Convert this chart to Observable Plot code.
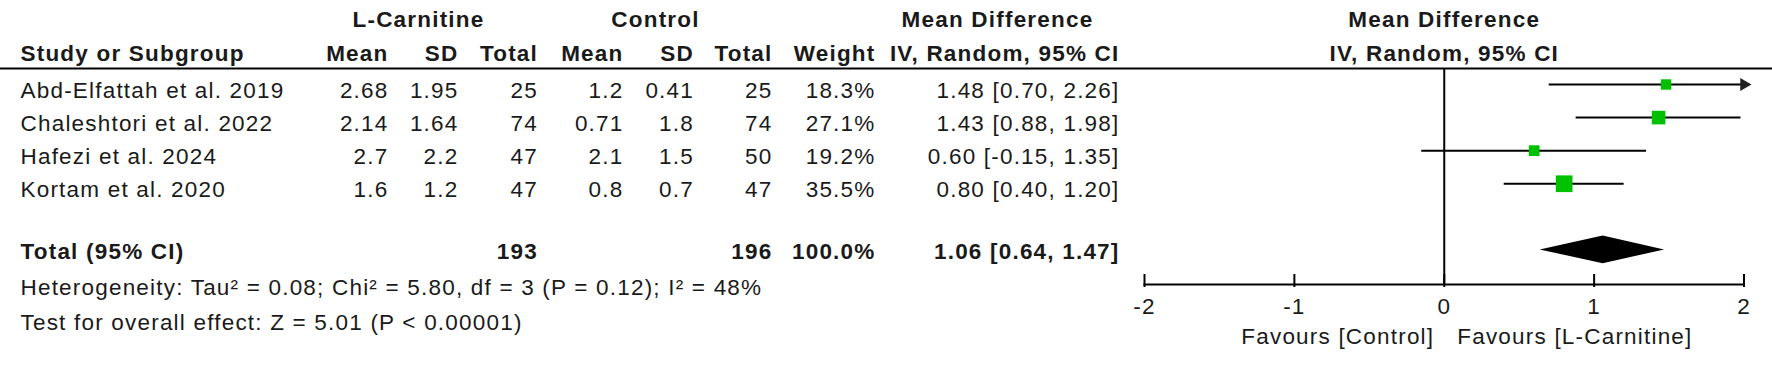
<!DOCTYPE html>
<html>
<head>
<meta charset="utf-8">
<script src="https://cdn.jsdelivr.net/npm/d3@7"></script>
<script src="https://cdn.jsdelivr.net/npm/@observablehq/plot@0.6"></script>
<style>
  html, body { margin: 0; padding: 0; background: #fff; }
  #chart svg { display: block; }
  #chart svg text { letter-spacing: 1.2px; }
</style>
</head>
<body>
<div id="chart"></div>
<script>
// ---------------- data ----------------
const studies  = ["Abd-Elfattah et al. 2019", "Chaleshtori et al. 2022", "Hafezi et al. 2024", "Kortam et al. 2020"];
const lcMean   = [2.68, 2.14, 2.7, 1.6];
const lcSD     = [1.95, 1.64, 2.2, 1.2];
const lcTotal  = [25, 74, 47, 47];
const ctMean   = [1.2, 0.71, 2.1, 0.8];
const ctSD     = [0.41, 1.8, 1.5, 0.7];
const ctTotal  = [25, 74, 50, 47];
const weights  = [18.3, 27.1, 19.2, 35.5];
const mdValues = [1.48, 1.43, 0.60, 0.80];
const ciLow    = [0.70, 0.88, -0.15, 0.40];
const ciHigh   = [2.26, 1.98, 1.35, 1.20];
const totalLc = 193, totalCt = 196, totalWeight = 100.0;
const pooledMd = 1.06, pooledLow = 0.64, pooledHigh = 1.47;
const heterogeneityText = "Heterogeneity: Tau\u00B2 = 0.08; Chi\u00B2 = 5.80, df = 3 (P = 0.12); I\u00B2 = 48%";
const overallText = "Test for overall effect: Z = 5.01 (P < 0.00001)";
const xTicks = [-2, -1, 0, 1, 2];
const favoursLabels = ["Favours [Control]", "Favours [L-Carnitine]"];
const groupHeaders = ["L-Carnitine", "Control", "Mean Difference"];
const plotHeaders = ["Mean Difference", "IV, Random, 95% CI"];

// ---------------- table built from arrays ----------------
const rows = studies.map((study, i) => ({
  i, study, lcMean: lcMean[i], lcSD: lcSD[i], lcTotal: lcTotal[i],
  ctMean: ctMean[i], ctSD: ctSD[i], ctTotal: ctTotal[i],
  weight: weights[i], md: mdValues[i], lo: ciLow[i], hi: ciHigh[i]
}));
const totalIndex = studies.length + 1;
const ci = (m, l, h) => `${m.toFixed(2)} [${l.toFixed(2)}, ${h.toFixed(2)}]`;

// ---------------- layout ----------------
const W = 1772, H = 366;
const X0 = 1144, X1 = 1743.5;          // pixel range of the forest axis
const FONT = "Liberation Sans, Arial, sans-serif";
const FS = 22.5;
const INK = "#1a1a1a";
const GREEN = "#00c000";

const cols = [
  {x: 20,    anchor: "start", head: "Study or Subgroup", cell: d => d.study, total: "Total (95% CI)"},
  {x: 388,   anchor: "end",   head: "Mean",   cell: d => String(d.lcMean)},
  {x: 458,   anchor: "end",   head: "SD",     cell: d => String(d.lcSD)},
  {x: 537.5, anchor: "end",   head: "Total",  cell: d => String(d.lcTotal), total: String(totalLc)},
  {x: 623,   anchor: "end",   head: "Mean",   cell: d => String(d.ctMean)},
  {x: 693.5, anchor: "end",   head: "SD",     cell: d => String(d.ctSD)},
  {x: 772,   anchor: "end",   head: "Total",  cell: d => String(d.ctTotal), total: String(totalCt)},
  {x: 875,   anchor: "end",   head: "Weight", cell: d => d.weight.toFixed(1) + "%", total: totalWeight.toFixed(1) + "%"},
  {x: 1119,  anchor: "end",   head: "IV, Random, 95% CI", cell: d => ci(d.md, d.lo, d.hi), total: ci(pooledMd, pooledLow, pooledHigh)}
];
const groupX = [418, 655, 997];

const textBase = {fontFamily: FONT, fontSize: FS, fill: INK, lineAnchor: "bottom"};

const marks = [];

// header rule (full width) and axis line
marks.push(Plot.frame({anchor: "top", stroke: "#000", strokeWidth: 2}));
marks.push(Plot.frame({anchor: "bottom", stroke: "#000", strokeWidth: 2, insetLeft: X0, insetRight: W - X1}));

// group headers
groupHeaders.forEach((t, k) => {
  marks.push(Plot.text([t], {...textBase, text: d => d, frameAnchor: "top-left", dx: groupX[k], dy: -41.5, textAnchor: "middle", fontWeight: "bold"}));
});
// column headers
cols.forEach(c => {
  marks.push(Plot.text([c.head], {...textBase, text: d => d, frameAnchor: "top-left", dx: c.x, dy: -8, textAnchor: c.anchor, fontWeight: "bold"}));
});
// plot-side headers centred on zero
marks.push(Plot.text([plotHeaders[0]], {...textBase, x: () => 0, text: d => d, frameAnchor: "top", dy: -41.5, textAnchor: "middle", fontWeight: "bold"}));
marks.push(Plot.text([plotHeaders[1]], {...textBase, x: () => 0, text: d => d, frameAnchor: "top", dy: -8, textAnchor: "middle", fontWeight: "bold"}));

// study rows
cols.forEach(c => {
  marks.push(Plot.text(rows, {...textBase, y: "i", text: c.cell, frameAnchor: "left", dx: c.x, dy: 13, textAnchor: c.anchor}));
  if (c.total) {
    marks.push(Plot.text([c.total], {...textBase, y: () => totalIndex, text: d => d, frameAnchor: "left", dx: c.x, dy: 9.5, textAnchor: c.anchor, fontWeight: "bold"}));
  }
});

// footnotes
marks.push(Plot.text([heterogeneityText], {...textBase, text: d => d, frameAnchor: "bottom-left", dx: 20, dy: 10, textAnchor: "start"}));
marks.push(Plot.text([overallText], {...textBase, text: d => d, frameAnchor: "bottom-left", dx: 20, dy: 45, textAnchor: "start"}));

// zero line
marks.push(Plot.ruleX([0], {stroke: "#000", strokeWidth: 2}));

// ticks & labels
marks.push(Plot.ruleX(xTicks, {x: d => d, stroke: "#000", strokeWidth: 2, insetTop: 206, insetBottom: -3}));
marks.push(Plot.text(xTicks, {...textBase, x: d => d, text: d => String(d), frameAnchor: "bottom", dy: 29.5, textAnchor: "middle"}));

// favours labels
marks.push(Plot.text([favoursLabels[0]], {...textBase, x: () => 0, text: d => d, frameAnchor: "bottom", dy: 59.5, dx: -10, textAnchor: "end"}));
marks.push(Plot.text([favoursLabels[1]], {...textBase, x: () => 0, text: d => d, frameAnchor: "bottom", dy: 59.5, dx: 13, textAnchor: "start"}));

// confidence intervals
marks.push(Plot.ruleY(rows, {y: "i", x1: "lo", x2: "hi", stroke: "#000", strokeWidth: 2}));
// arrow for CI beyond the axis
marks.push(Plot.dot(rows.filter(d => d.hi > 2), {x: "hi", y: "i", symbol: "triangle", rotate: 90, r: 4.8, fill: "#222", stroke: "none"}));
// study squares
marks.push(Plot.dot(rows, {x: "md", y: "i", r: "weight", symbol: "square", fill: GREEN, stroke: "none"}));

// pooled diamond
const halfH = 0.42;
const diamond = [
  {x: pooledLow, y1: totalIndex, y2: totalIndex},
  {x: pooledMd, y1: totalIndex - halfH, y2: totalIndex + halfH},
  {x: pooledHigh, y1: totalIndex, y2: totalIndex}
];
marks.push(Plot.areaY(diamond, {x: "x", y1: "y1", y2: "y2", fill: "#000", curve: "linear"}));

const chart = Plot.plot({
  width: W, height: H,
  marginTop: 68, marginBottom: 82, marginLeft: 0, marginRight: 0,
  x: {domain: [-2, 2], range: [X0, X1], clamp: true, axis: null},
  y: {domain: [0, totalIndex], range: [84, 84 + 33.08 * totalIndex], axis: null},
  r: {type: "linear", domain: d3.extent(weights), range: [5.87, 9.42]},
  style: {fontFamily: FONT, background: "#fff", color: INK},
  marks
});
document.getElementById("chart").appendChild(chart);
</script>
</body>
</html>
